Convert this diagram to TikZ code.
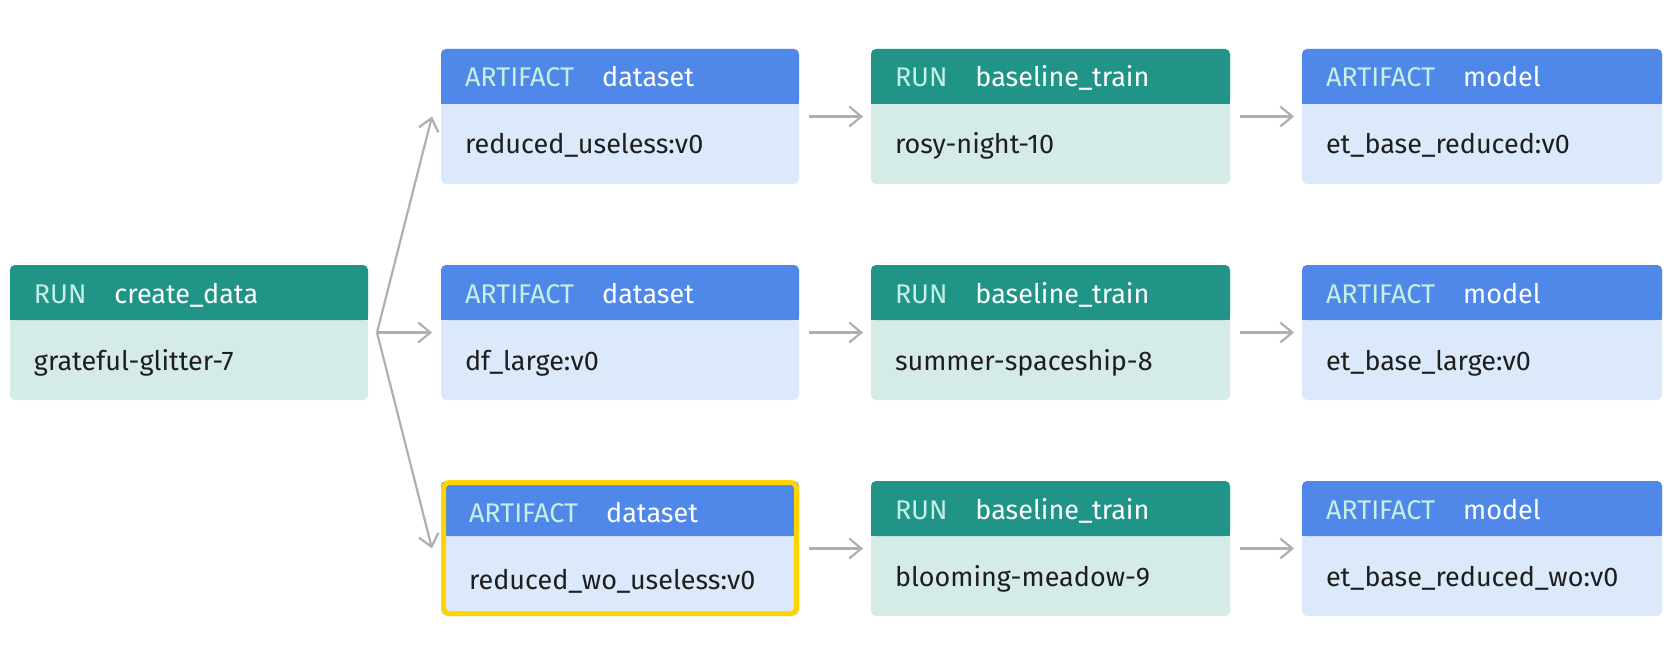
\documentclass[tikz,border=0pt]{standalone}
\usepackage{fontspec}
\setmainfont{Fira Sans}
\usetikzlibrary{arrows.meta}
\definecolor{runhead}{HTML}{219488}
\definecolor{runbody}{HTML}{D4EBE7}
\definecolor{arthead}{HTML}{5088EA}
\definecolor{artbody}{HTML}{DCE9FA}
\definecolor{lblcol}{HTML}{C5F0E6}
\definecolor{bodytext}{HTML}{1E1E1E}
\definecolor{arrcol}{HTML}{B0B0B4}
\definecolor{hl}{HTML}{FFD400}
\newcommand\mkcard[9]{%
  \node[cardbox, minimum width=#4pt, fill=#5body] (#1) at (#2,#3) {};
  \fill[#5head, rounded corners=5pt] (#1.north west) rectangle ([yshift=-55pt]#1.north east);
  \fill[#5head] ([yshift=-45pt]#1.north west) rectangle ([yshift=-55pt]#1.north east);
  \path (#1.north west) ++(#9) ++(24,38) node[typelbl, anchor=base west] (#1-type) {#6};
  \node[titlelbl, anchor=base west] (#1-title) at ([xshift=28pt]#1-type.base east) {#7};
  \path (#1.north west) ++(#9) ++(24,105) node[bodylbl, anchor=base west] (#1-body) {#8};
}
\begin{document}
\begin{tikzpicture}[x=1pt,y=-1pt,
  every node/.style={inner sep=0pt, outer sep=0pt},
  cardbox/.style={rounded corners=5pt, minimum height=135pt, anchor=north west},
  typelbl/.style={text=lblcol, font=\fontsize{27}{32}\selectfont},
  titlelbl/.style={text=white, font=\fontsize{27}{32}\selectfont},
  bodylbl/.style={text=bodytext, font=\fontsize{27}{32}\selectfont},
  arr/.style={draw=arrcol, line width=2.2pt, -{Straight Barb[length=12pt, width=20pt, line width=2.2pt]}},
  hlbox/.style={draw=hl, line width=5pt, rounded corners=6pt}
]
\useasboundingbox[fill=white] (0,0) rectangle (1668,663);

\mkcard{c0}{10}{265}{358}{run}{RUN}{create\_data}{grateful-glitter-7}{0,0}

\mkcard{a1}{441}{49}{358}{art}{ARTIFACT}{dataset}{reduced\_useless:v0}{0,0}
\mkcard{a2}{441}{265}{358}{art}{ARTIFACT}{dataset}{df\_large:v0}{0,0}
\mkcard{a3}{441}{481}{358}{art}{ARTIFACT}{dataset}{reduced\_wo\_useless:v0}{4,3}
\draw[hlbox] ([shift={(2.5pt,-1.5pt)}]a3.north west) rectangle ([shift={(-2.5pt,2.5pt)}]a3.south east);

\mkcard{r1}{871}{49}{359}{run}{RUN}{baseline\_train}{rosy-night-10}{0,0}
\mkcard{r2}{871}{265}{359}{run}{RUN}{baseline\_train}{summer-spaceship-8}{0,0}
\mkcard{r3}{871}{481}{359}{run}{RUN}{baseline\_train}{blooming-meadow-9}{0,0}

\mkcard{m1}{1302}{49}{360}{art}{ARTIFACT}{model}{et\_base\_reduced:v0}{0,0}
\mkcard{m2}{1302}{265}{360}{art}{ARTIFACT}{model}{et\_base\_large:v0}{0,0}
\mkcard{m3}{1302}{481}{360}{art}{ARTIFACT}{model}{et\_base\_reduced\_wo:v0}{0,0}

\coordinate (br) at ([xshift=9pt]c0.east);
\draw[arr] (br) -- ([xshift=-9pt]a1.west);
\draw[arr] (br) -- ([xshift=-9pt]a2.west);
\draw[arr] (br) -- ([xshift=-9pt]a3.west);

\foreach \s/\t in {a1/r1,a2/r2,a3/r3,r1/m1,r2/m2,r3/m3}
  \draw[arr] ([xshift=10pt]\s.east) -- ([xshift=-8pt]\t.west);
\end{tikzpicture}
\end{document}
